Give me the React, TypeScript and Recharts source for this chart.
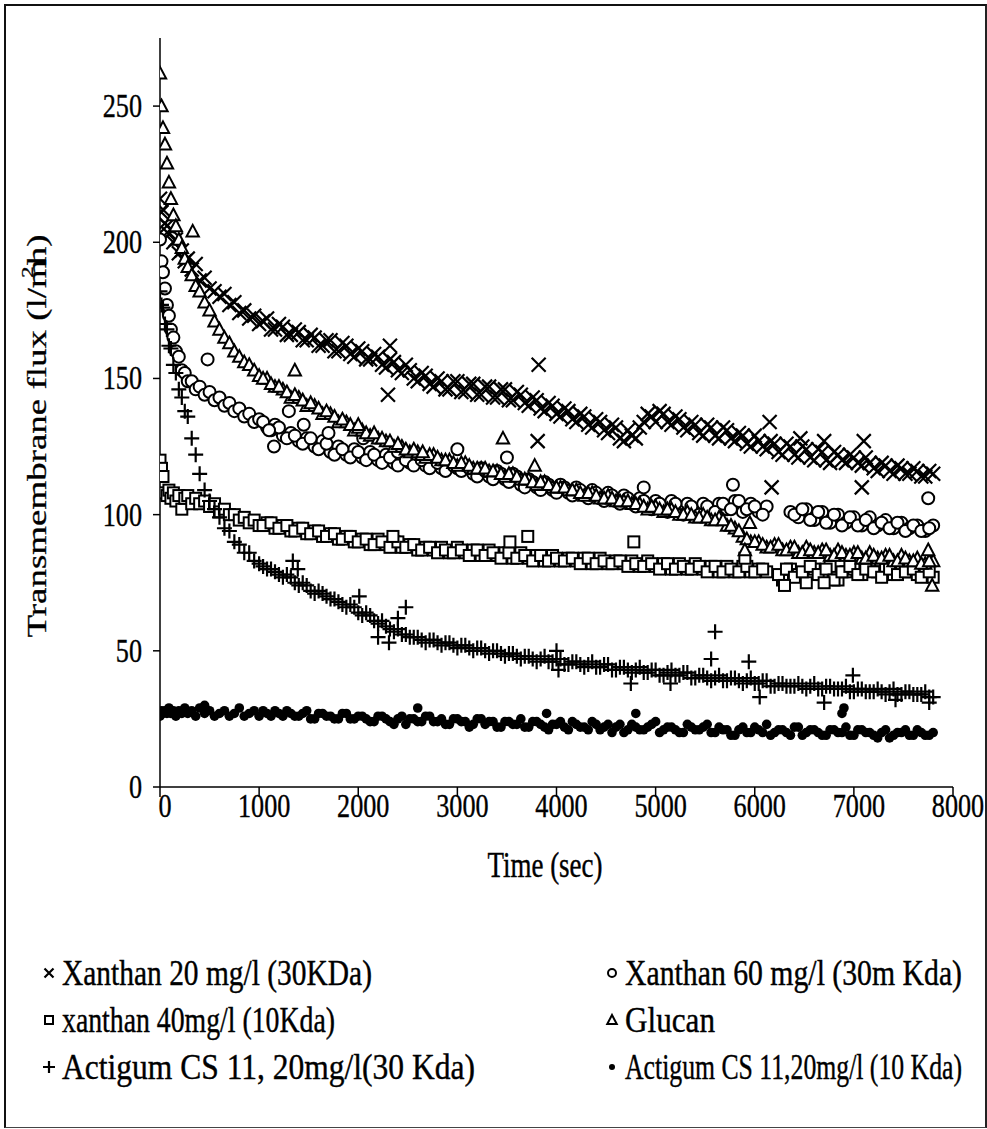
import React from "react";
import { ScatterChart, Scatter, XAxis, YAxis } from "recharts";

// sampling times of the first pass of readings
const timeSec = [
  0, 15, 30, 50, 70, 90, 110, 135, 160, 190, 220, 250, 280, 320, 360, 400, 450, 500, 550, 600, 650, 700, 750, 800, 850, 900, 950, 1000,
  1080, 1160, 1240, 1320, 1400, 1480, 1560, 1640, 1720, 1800, 1880, 1960, 2040, 2120, 2200, 2280, 2360, 2440, 2520, 2600, 2680, 2760,
  2840, 2920, 3000, 3080, 3160, 3240, 3320, 3400, 3480, 3560, 3640, 3720, 3800, 3880, 3960, 4040, 4120, 4200, 4280, 4360, 4440, 4520,
  4600, 4680, 4760, 4840, 4920, 5000, 5080, 5160, 5240, 5320, 5400, 5480, 5560, 5640, 5720, 5800, 5880, 5960, 6040, 6120, 6200, 6280,
  6360, 6440, 6520, 6600, 6680, 6760, 6840, 6920, 7000, 7080, 7160, 7240, 7320, 7400, 7480, 7560, 7640, 7720, 7800,
];
// sampling times of the interleaved readings
const timeSecB = [
  1040, 1120, 1200, 1280, 1360, 1440, 1520, 1600, 1680, 1760,
  1840, 1920, 2000, 2080, 2160, 2240, 2320, 2400, 2480, 2560,
  2640, 2720, 2800, 2880, 2960, 3040, 3120, 3200, 3280, 3360,
  3440, 3520, 3600, 3680, 3760, 3840, 3920, 4000, 4080, 4160,
  4240, 4320, 4400, 4480, 4560, 4640, 4720, 4800, 4880, 4960,
  5040, 5120, 5200, 5280, 5360, 5440, 5520, 5600, 5680, 5760,
  5840, 5920, 6000, 6080, 6160, 6240, 6320, 6400, 6480, 6560,
  6640, 6720, 6800, 6880, 6960, 7040, 7120, 7200, 7280, 7360,
  7440, 7520, 7600, 7680, 7760,
];

const xanthan20: (number | null)[] = [
  216, 211, 212, 207, 206, 203, 205, 200, 201, 196, 197, 193, 194, 190, 192, 186, 187, 183, 182, 180, 181, 177, 178, 174, 175, 172, 173, 170,
  172, 168, 169, 166, 167, 164, 165, 162, 164, 160, 162, 158, 160, 157, 158, 154, 156, 152, 153, 149, 151, 147,
  149, 146, 149, 145, 148, 144, 147, 143, 146, 142, 144, 140, 142, 138, 140, 136, 138, 134, 136, 132, 134, 130,
  132, 127, 129, 132, 137, 134, 137, 133, 135, 131, 133, 129, 132, 128, 131, 127, 129, 125, 127, 124, 126, 122,
  125, 121, 124, 120, 123, 119, 122, 119, 121, 118, 119, 116, 118, 115, 117, 115, 116, 114, 115,
];
const xanthan20B: (number | null)[] = [
  171, 168, 170, 166, 168, 164, 166, 162, 164, 160,
  163, 159, 161, 157, 159, 155, 157, 153, 155, 150,
  152, 148, 150, 146, 149, 145, 148, 144, 147, 143,
  146, 142, 145, 141, 143, 139, 141, 137, 139, 135,
  137, 133, 135, 131, 133, 128, 131, 128, 134, 136,
  138, 134, 136, 132, 134, 130, 133, 129, 132, 128,
  130, 126, 129, 125, 127, 123, 126, 122, 125, 121,
  124, 120, 123, 120, 122, 119, 121, 117, 119, 116,
  118, 115, 117, 114, 116,
];
const xanthan20Extra: [number, number][] = [
  [2320, 162], [2300, 144], [3820, 155], [3810, 127], [6150, 134], [6170, 110], [7080, 110], [7100, 127], [6460, 128], [6700, 127],
];

const xanthan60: (number | null)[] = [
  201, 193, 189, 183, 177, 173, 168, 165, 160, 158, 153, 152, 149, 149, 146, 147, 144, 145, 142, 143, 140, 141, 138, 139, 136, 137, 134, 135,
  132, 133, 129, 130, 127, 128, 125, 127, 123, 125, 122, 124, 121, 123, 120, 122, 119, 121, 119, 120, 118, 120,
  117, 119, 117, 118, 115, 117, 114, 116, 113, 115, 111, 113, 110, 112, 109, 111, 108, 110, 107, 109, 106, 108,
  105, 107, 104, 106, 103, 105, 102, 105, 102, 104, 101, 104, 101, 104, 102, 105, 101, 104, 101, 103, null, null,
  101, 99, 102, 98, 101, 97, 100, 97, 99, 96, 99, 96, 98, 95, 97, 95, 96, 94, 96,
];
const xanthan60B: (number | null)[] = [
  134, 131, 132, 128, 129, 126, 128, 124, 126, 122,
  124, 121, 123, 120, 122, 119, 121, 118, 120, 118,
  120, 117, 119, 116, 118, 116, 117, 114, 116, 113,
  115, 112, 114, 110, 112, 109, 111, 108, 110, 107,
  109, 106, 108, 105, 107, 104, 106, 103, 105, 102,
  104, 101, 104, 100, 103, 100, 103, 101, 104, 102,
  105, 102, 103, 100, null, null, null, 100, 102, 98,
  101, 97, 100, 96, 99, 96, 98, 95, 97, 95,
  97, 94, 96, 94, 95,
];
const xanthan60Extra: [number, number][] = [
  [480, 157], [1150, 125], [1100, 131], [1300, 138], [1450, 133], [1700, 130], [2050, 128], [2400, 123], [3000, 124], [3500, 121],
  [4880, 110], [5780, 111], [7750, 106],
];

const xanthan40: (number | null)[] = [
  120, 117, 114, 108, 107, 109, 106, 108, 105, 107, 102, 106, 107, 104, 106, 104, 105, 103, 104, 101, 102, 100, 100, 98, 99, 97, 98, 96,
  97, 95, 96, 94, 95, 93, 94, 92, 93, 91, 92, 90, 91, 89, 91, 89, 90, 88, 89, 87, 88, 87,
  88, 86, 88, 86, 87, 85, 87, 85, 86, 84, 86, 84, 85, 83, 85, 83, 84, 83, 84, 82, 84, 82,
  83, 82, 83, 81, 83, 81, 82, 80, 82, 80, 82, 80, 81, 79, 81, 79, 81, 79, 80, 79, null, 76,
  80, 78, 75, 80, 78, 81, 76, 79, 80, 78, 81, 79, 80, 78, 80, 79, 78, 80, 77,
];
const xanthan40B: (number | null)[] = [
  96, 97, 95, 96, 94, 95, 93, 94, 92, 93,
  91, 92, 90, 91, 89, 90, 88, 90, 88, 89,
  87, 88, 86, 87, 86, 87, 85, 87, 85, 86,
  84, 86, 84, 85, 83, 85, 83, 84, 83, 84,
  82, 84, 82, 83, 82, 83, 81, 82, 81, 82,
  80, 82, 80, 81, 80, 81, 79, 81, 79, 80,
  79, 81, 79, 80, null, 78, 80, 77, 79, 81,
  78, 80, 76, 79, 81, 78, 80, 79, 77, 80,
  78, 79, 80, 77, 79,
];
const xanthan40Extra: [number, number][] = [
  [2350, 92], [3530, 90], [3710, 92], [4780, 90], [5900, 84], [6300, 74], [6700, 75],
];

const glucan: (number | null)[] = [
  262, 250, 242, 236, 229, 222, 216, 210, 206, 201, 198, 194, 191, 188, 184, 182, 178, 175, 171, 168, 165, 163, 160, 158, 156, 155, 153, 151,
  150, 147, 146, 143, 143, 140, 140, 137, 137, 134, 134, 131, 131, 129, 128, 127, 125, 125, 123, 123, 121, 122,
  120, 120, 118, 119, 117, 117, 116, 116, 114, 115, 113, 113, 111, 112, 110, 110, 109, 109, 107, 108, 106, 107,
  105, 105, 104, 104, 102, 103, 101, 102, 100, 101, 99, 100, 98, 99, 96, 95, 92, 90, 90, 88, 89, 87,
  88, 86, 88, 86, 87, 85, 87, 85, 86, 84, 86, 84, 85, 83, 85, 83, 84, 82, 83,
];
const glucanB: (number | null)[] = [
  150, 148, 147, 145, 144, 142, 141, 139, 138, 136,
  135, 133, 132, 130, 130, 128, 127, 126, 124, 124,
  122, 122, 121, 120, 119, 119, 118, 117, 117, 116,
  115, 115, 114, 113, 112, 112, 111, 110, 110, 109,
  108, 108, 107, 106, 106, 105, 105, 104, 103, 103,
  102, 102, 101, 100, 100, 99, 99, 98, 98, 96,
  94, 91, 90, 89, 88, 89, 87, 88, 86, 87,
  86, 87, 85, 86, 85, 86, 84, 85, 84, 85,
  83, 84, 83, 82, 83,
];
const glucanExtra: [number, number][] = [
  [330, 204], [1360, 153], [2000, 133], [2650, 123], [3460, 128], [3780, 118], [5950, 97], [5900, 87], [7750, 87], [7790, 74],
];

const actigum30: (number | null)[] = [
  182, 177, 176, 170, 168, 162, 161, 155, 152, 146, 143, 138, 136, 128, 122, 115, 109, 105, 102, 99, 95, 94, 90, 89, 86, 86, 83, 82,
  80, 79, 77, 77, 74, 74, 71, 71, 69, 68, 66, 66, 63, 63, 60, 59, 57, 56, 55, 55, 53, 54,
  52, 53, 51, 52, 50, 51, 49, 50, 48, 49, 47, 48, 46, 48, 46, 47, 45, 46, 44, 46, 44, 45,
  43, 44, 42, 44, 42, 43, 41, 43, 41, 42, 40, 41, 39, 41, 39, 40, 38, 40, 38, 39, 37, 38,
  37, 38, 36, 38, 36, 37, 36, 37, 35, 36, 35, 36, 34, 36, 34, 35, 34, 35, 33,
];
const actigum30B: (number | null)[] = [
  81, 80, 78, 78, 75, 75, 72, 72, 70, 69,
  67, 67, 64, 64, 61, 61, 58, 58, 56, 55,
  54, 54, 53, 53, 52, 52, 51, 51, 50, 50,
  49, 49, 48, 48, 47, 47, 46, 47, 45, 46,
  45, 45, 44, 45, 43, 44, 43, 43, 42, 43,
  41, 42, 41, 42, 40, 41, 40, 40, 39, 40,
  39, 39, 38, 39, 37, 38, 37, 37, 37, 37,
  36, 37, 36, 36, 35, 36, 35, 35, 35, 35,
  34, 35, 34, 34, 33,
];
const actigum30Extra: [number, number][] = [
  [1340, 83], [1390, 80], [2010, 70], [2200, 55], [2310, 53], [2400, 62], [2480, 66], [4000, 50], [4020, 43], [4750, 38],
  [5150, 38], [5560, 47], [5600, 57], [5940, 46], [6050, 33], [6700, 31], [6990, 41], [7420, 32], [7760, 31],
];

const actigum10: (number | null)[] = [
  26, 28, 27, 28, 27, 29, 27, 28, 26, 28, 27, 29, 27, 28, 26, 29, 27, 28, 26, 27, 28, 26, 27, 29, 26, 27, 28, 26,
  27, 28, 26, 27, 26, 28, 25, 27, 26, 25, 27, 25, 26, 24, 26, 25, 23, 26, 25, 24, 26, 24,
  25, 23, 25, 24, 23, 25, 24, 22, 24, 23, 25, 22, 24, 22, 23, 24, 21, 23, 22, 24, 21, 23,
  22, 20, 23, 21, 22, 24, 21, 22, 20, 23, 21, 22, 20, 22, 21, 19, 22, 20, 21, 23, 20, 21,
  19, 22, 20, 21, 19, 21, 20, 22, 19, 21, 20, 18, 21, 19, 20, 19, 21, 19, 20,
];
const actigum10B: (number | null)[] = [
  28, 26, 27, 28, 26, 27, 25, 27, 26, 25,
  27, 25, 26, 25, 24, 26, 24, 25, 23, 25,
  24, 26, 24, 23, 25, 24, 22, 25, 23, 24,
  22, 24, 23, 22, 24, 23, 21, 23, 22, 24,
  22, 21, 23, 22, 20, 23, 21, 22, 21, 23,
  20, 22, 21, 20, 22, 21, 23, 20, 21, 19,
  21, 20, 22, 20, 19, 21, 20, 22, 19, 21,
  20, 19, 21, 20, 19, 21, 20, 19, 20, 18,
  20, 21, 19, 20, 19,
];
const actigum10Extra: [number, number][] = [
  [450, 30], [2600, 29], [3900, 27], [4800, 27], [6880, 27], [6900, 29],
];

const xTicks = [0, 1000, 2000, 3000, 4000, 5000, 6000, 7000, 8000];
const yTicks = [0, 50, 100, 150, 200, 250];

const seriesNames = [
  "Xanthan 20 mg/l (30KDa)",
  "Xanthan 60 mg/l (30m Kda)",
  "xanthan 40mg/l (10Kda)",
  "Glucan",
  "Actigum CS 11, 20mg/l(30 Kda)",
  "Actigum CS 11,20mg/l (10 Kda)",
];
// printed width of each legend text in the reference
const legendTextWidth = [310, 337, 273, 90, 413, 337];

function toPoints(vals: (number | null)[], valsB: (number | null)[], extra: [number, number][]) {
  const pts: { t: number; v: number }[] = [];
  vals.forEach((v, i) => {
    if (v !== null) pts.push({ t: timeSec[i], v });
  });
  valsB.forEach((v, i) => {
    if (v !== null) pts.push({ t: timeSecB[i], v });
  });
  extra.forEach(([t, v]) => pts.push({ t, v }));
  return pts;
}

const FONT = "'Liberation Serif', 'Times New Roman', serif";
const INK = "#000";

type MP = { cx?: number; cy?: number; s?: number };

const XMark = ({ cx = 0, cy = 0, s = 7 }: MP) => (
  <path d={`M${cx - s},${cy - s}L${cx + s},${cy + s}M${cx - s},${cy + s}L${cx + s},${cy - s}`} stroke={INK} strokeWidth={2.2} fill="none" />
);
const CircleMark = ({ cx = 0, cy = 0, s = 6 }: MP) => (
  <circle cx={cx} cy={cy} r={s} stroke={INK} strokeWidth={2} fill="#fff" />
);
const SquareMark = ({ cx = 0, cy = 0, s = 5.5 }: MP) => (
  <rect x={cx - s} y={cy - s} width={2 * s} height={2 * s} stroke={INK} strokeWidth={2} fill="#fff" />
);
const TriangleMark = ({ cx = 0, cy = 0, s = 6.5 }: MP) => (
  <path d={`M${cx},${cy - s}L${cx + s * 0.95},${cy + s * 0.8}L${cx - s * 0.95},${cy + s * 0.8}Z`} stroke={INK} strokeWidth={2} fill="#fff" />
);
const PlusMark = ({ cx = 0, cy = 0, s = 7.5 }: MP) => (
  <path d={`M${cx - s},${cy}L${cx + s},${cy}M${cx},${cy - s}L${cx},${cy + s}`} stroke={INK} strokeWidth={2.2} fill="none" />
);
const DotMark = ({ cx = 0, cy = 0, s = 4.8 }: MP) => <circle cx={cx} cy={cy} r={s} fill={INK} />;

const markers = [XMark, CircleMark, SquareMark, TriangleMark, PlusMark, DotMark];

const series = [
  toPoints(xanthan20, xanthan20B, xanthan20Extra),
  toPoints(xanthan60, xanthan60B, xanthan60Extra),
  toPoints(xanthan40, xanthan40B, xanthan40Extra),
  toPoints(glucan, glucanB, glucanExtra),
  toPoints(actigum30, actigum30B, actigum30Extra),
  toPoints(actigum10, actigum10B, actigum10Extra),
];

const XTick = (props: any) => {
  const { x, y, payload } = props;
  return (
    <text transform={`translate(${x + 5},${y + 18}) scale(0.77,1)`} textAnchor="middle" fontFamily={FONT} fontSize={34} fill={INK} stroke={INK} strokeWidth={0.4}>
      {payload.value}
    </text>
  );
};

const YTick = (props: any) => {
  const { y, payload } = props;
  return (
    <text transform={`translate(142,${y + 11}) scale(0.77,1)`} textAnchor="end" fontFamily={FONT} fontSize={34} fill={INK} stroke={INK} strokeWidth={0.4}>
      {payload.value}
    </text>
  );
};

const YTitle = () => (
  <text transform="translate(46,436) rotate(-90) scale(1.32,1)" textAnchor="middle" fontFamily={FONT} fontSize={28} fill={INK} stroke={INK} strokeWidth={0.3}>
    Transmembrane flux (l/m
    <tspan fontSize={17} dx={-14} dy={-13}>2</tspan>
    <tspan dx={1} dy={13}>h)</tspan>
  </text>
);

const XTitle = () => (
  <text transform="translate(545,877) scale(0.77,1)" textAnchor="middle" fontFamily={FONT} fontSize={35} fill={INK} stroke={INK} strokeWidth={0.4}>
    Time (sec)
  </text>
);

const legendRows = [
  [0, 1],
  [2, 3],
  [4, 5],
];
const legendMarkerSize = [4.5, 4, 4, 5, 6, 3];
const SQX = 0.77;

export default function App() {
  return (
    <div style={{ position: "absolute", left: 0, top: 0, width: 987, height: 1129, background: "#fff", overflow: "hidden" }}>
      <div
        style={{
          position: "absolute",
          left: 4,
          top: 4,
          width: 979,
          height: 1121,
          borderTop: "2px solid #111",
          borderLeft: "2px solid #111",
          borderRight: "2px solid #222",
          borderBottom: "1px solid #444",
        }}
      />
      <div style={{ position: "absolute", left: 0, top: 0 }}>
        <ScatterChart width={987} height={940} margin={{ top: 38, right: 34, bottom: 40, left: 0 }}>
          <XAxis
            type="number"
            dataKey="t"
            domain={[0, 8000]}
            ticks={xTicks}
            interval={0}
            height={113}
            tickSize={10}
            axisLine={{ stroke: INK, strokeWidth: 1.5 }}
            tickLine={{ stroke: INK, strokeWidth: 1.5 }}
            tick={<XTick />}
            allowDataOverflow
            label={<XTitle />}
          />
          <YAxis
            type="number"
            dataKey="v"
            domain={[0, 275]}
            ticks={yTicks}
            interval={0}
            width={160}
            tickSize={7}
            axisLine={{ stroke: INK, strokeWidth: 1.5 }}
            tickLine={{ stroke: INK, strokeWidth: 1.5 }}
            tick={<YTick />}
            allowDataOverflow
            label={<YTitle />}
          />
          {series.map((data, i) => {
            const M = markers[i];
            return (
              <Scatter
                key={seriesNames[i]}
                name={seriesNames[i]}
                data={data}
                isAnimationActive={false}
                shape={(p: any) => <M cx={p.cx} cy={p.cy} />}
              />
            );
          })}
        </ScatterChart>
      </div>
      <svg style={{ position: "absolute", left: 0, top: 940 }} width={987} height={180}>
        {legendRows.map((row, r) =>
          row.map((si, c) => {
            const M = markers[si];
            const cy = 33 + r * 47;
            const mx = c === 0 ? 49 : 612;
            return (
              <g key={si}>
                <M cx={mx} cy={cy} s={legendMarkerSize[si]} />
                <text
                  transform={`translate(${mx + 13},${cy + 12}) scale(${SQX},1)`}
                  fontFamily={FONT}
                  fontSize={36}
                  fill={INK}
                  stroke={INK}
                  strokeWidth={0.4}
                  textLength={legendTextWidth[si] / SQX}
                  lengthAdjust="spacingAndGlyphs"
                >
                  {seriesNames[si]}
                </text>
              </g>
            );
          })
        )}
      </svg>
    </div>
  );
}
